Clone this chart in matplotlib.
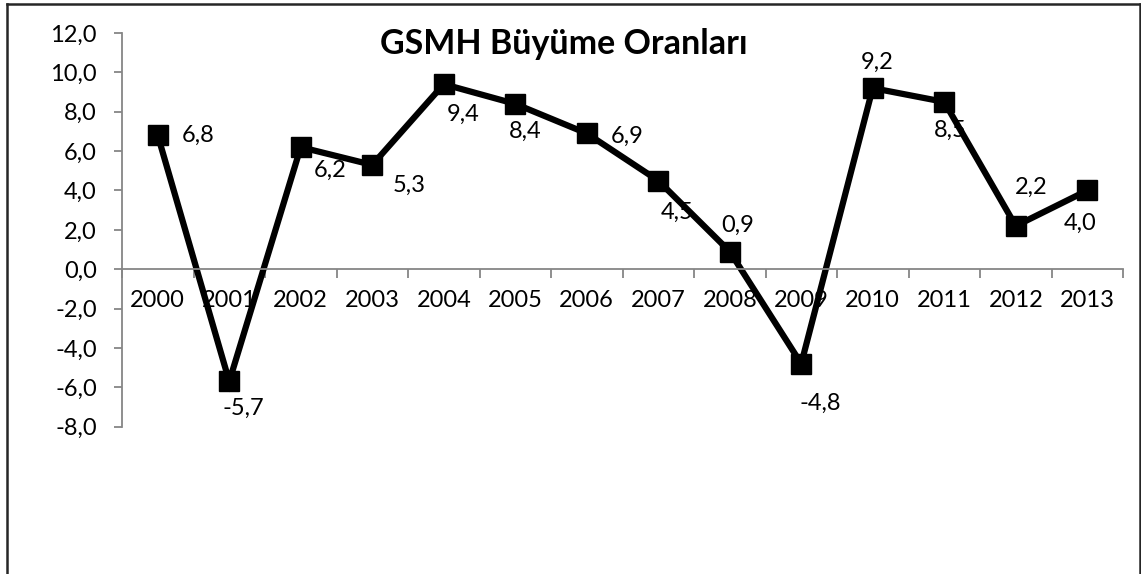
import matplotlib
matplotlib.use("Agg")
import matplotlib.pyplot as plt
from matplotlib.lines import Line2D
from matplotlib.ticker import FixedLocator, FuncFormatter

plt.rcParams['font.family'] = ['Lato', 'DejaVu Sans']

# veriler
yillar = ['2000', '2001', '2002', '2003', '2004', '2005', '2006',
          '2007', '2008', '2009', '2010', '2011', '2012', '2013']
buyume = [6.8, -5.7, 6.2, 5.3, 9.4, 8.4, 6.9, 4.5, 0.9, -4.8, 9.2, 8.5, 2.2, 4.0]

# etiket kaydırmaları (piksel)
etiket_ofset = [(40, 0), (14, -27), (29, -23), (37, -20), (19, -30), (10, -27), (40, -3),
                (19, -32), (8, 26), (19, -40), (4, 26), (6, -28), (15, 39), (-7, -33)]

W, H = 1141, 574
fig = plt.figure(figsize=(W / 100, H / 100), dpi=100)
ax = fig.add_axes([122 / W, 1 - 426.7 / H, 1001 / W, (426.7 - 33) / H])

x = list(range(len(yillar)))
ax.plot(x, buyume, color='black', linewidth=4.5, marker='s', markersize=14,
        markerfacecolor='black', markeredgecolor='black', solid_joinstyle='miter')

for xi, v, (dx, dy) in zip(x, buyume, etiket_ofset):
    ax.annotate(f'{v:.1f}'.replace('.', ','), (xi, v), xytext=(dx, dy),
                textcoords='offset pixels', ha='center', va='center', fontsize=17)

ax.set_xlim(-0.5, len(yillar) - 0.5)
ax.set_ylim(-8, 12)
ax.set_yticks(range(-8, 13, 2))
ax.yaxis.set_major_formatter(FuncFormatter(lambda v, p: f'{v:.1f}'.replace('.', ',')))

grey = '#868686'
for s in ['top', 'right']:
    ax.spines[s].set_visible(False)
ax.spines['left'].set_color(grey)
ax.spines['left'].set_linewidth(1.3)
ax.spines['bottom'].set_position(('data', 0))
ax.spines['bottom'].set_color(grey)
ax.spines['bottom'].set_linewidth(1.3)

ax.set_xticks(x)
ax.set_xticklabels(yillar)
ax.xaxis.set_minor_locator(FixedLocator([i + 0.5 for i in range(len(yillar))] + [-0.5]))
ax.tick_params(axis='x', which='major', length=0, pad=15, labelsize=17)
ax.tick_params(axis='x', which='minor', length=6.5, width=1.3, color=grey, direction='out')
ax.tick_params(axis='y', length=6, width=1.3, color=grey, pad=12, labelsize=17)
ax.set_facecolor('none')

fig.text(564 / W, 1 - 54 / H, 'GSMH Büyüme Oranları', ha='center', va='baseline',
         fontsize=24.5, fontweight='bold')

# çerçeve
kenar = dict(color='#262626', linewidth=1.8, transform=fig.transFigure)
fig.add_artist(Line2D([6.5 / W, 6.5 / W], [0, 1 - 3.5 / H], **kenar))
fig.add_artist(Line2D([6.5 / W, 1139.5 / W], [1 - 3.5 / H, 1 - 3.5 / H], **kenar))
fig.add_artist(Line2D([1139.5 / W, 1139.5 / W], [0, 1 - 3.5 / H], **kenar))

fig.savefig('out.png', dpi=100)
